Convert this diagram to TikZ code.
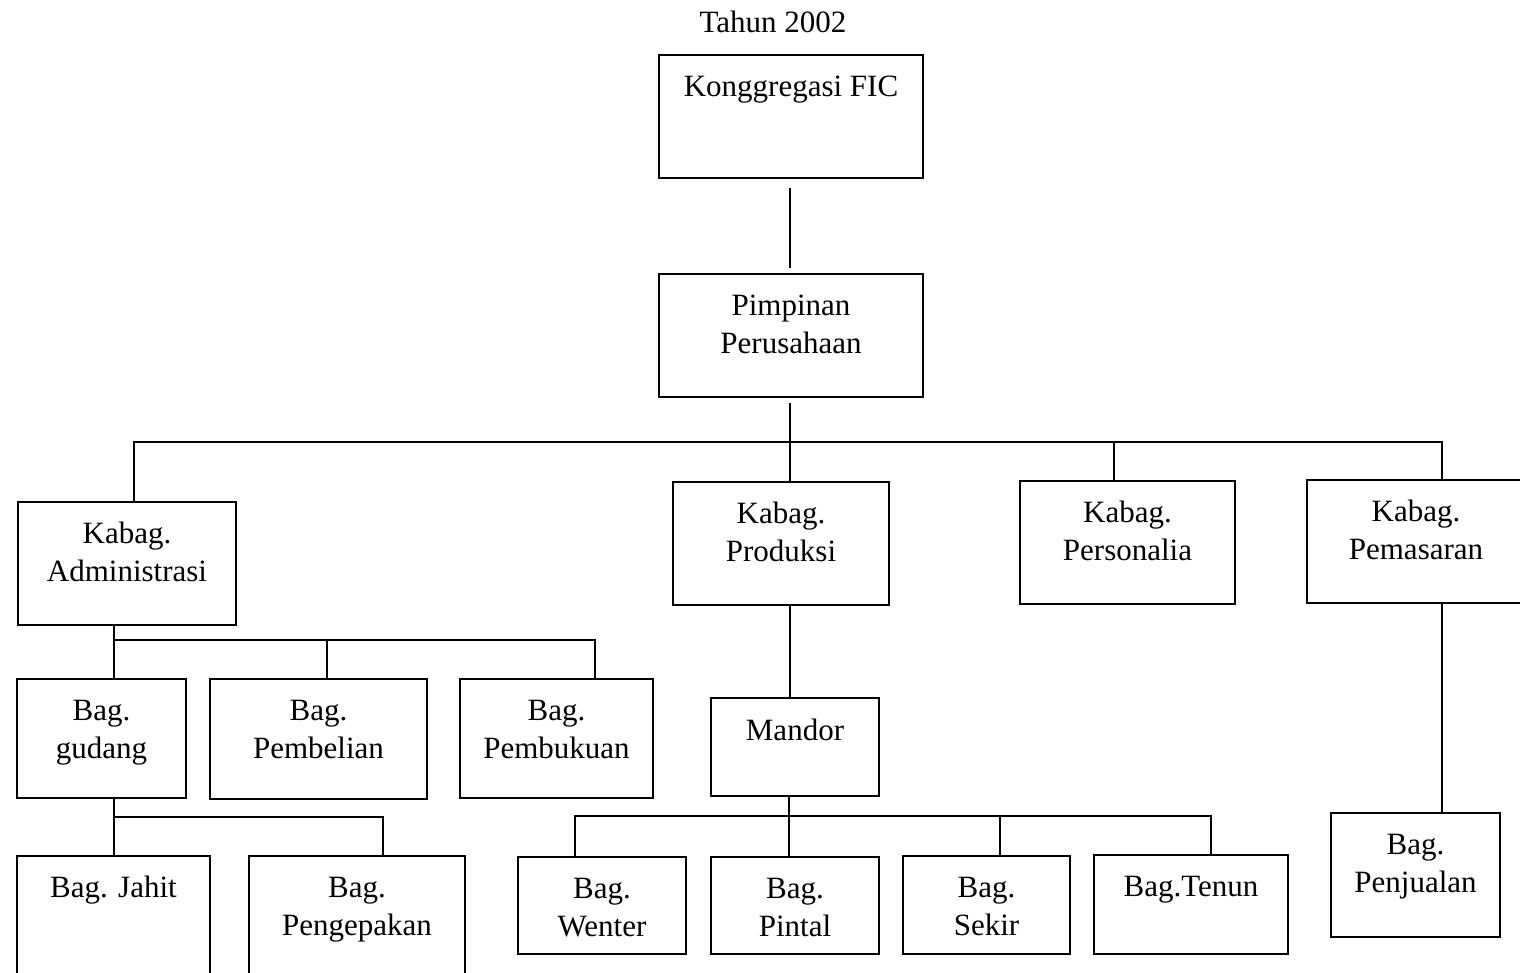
\documentclass[tikz,border=0pt]{standalone}
\usepackage{fontspec}
\setmainfont{Liberation Serif}
\begin{document}
\begin{tikzpicture}[x=1pt,y=-1pt,
  unit/.style={draw,line width=1.8pt,inner sep=0pt,outer sep=0pt,anchor=north west},
  lbl/.style={font=\fontsize{31}{38}\selectfont,align=center,inner sep=0pt,anchor=base},
  link/.style={line width=1.6pt}]
\clip (0,0) rectangle (1520,973);
\useasboundingbox (0,0) rectangle (1520,973);

% title
\node[lbl] (title) at (773,33) {Tahun 2002};

% boxes: top-left corner, width, height
\node[unit,minimum width=264pt,minimum height=123pt] (fic)  at (659,55)  {};
\node[unit,minimum width=264pt,minimum height=123pt] (pim)  at (659,274) {};
\node[unit,minimum width=218pt,minimum height=123pt] (adm)  at (18,502)  {};
\node[unit,minimum width=216pt,minimum height=123pt] (prod) at (673,482) {};
\node[unit,minimum width=215pt,minimum height=123pt] (pers) at (1020,481) {};
\node[unit,minimum width=218pt,minimum height=123pt] (pem)  at (1307,480) {};
\node[unit,minimum width=169pt,minimum height=119pt] (gud)  at (17,679)  {};
\node[unit,minimum width=217pt,minimum height=120pt] (pbl)  at (210,679) {};
\node[unit,minimum width=193pt,minimum height=119pt] (pbk)  at (460,679) {};
\node[unit,minimum width=168pt,minimum height=98pt]  (man)  at (711,698) {};
\node[unit,minimum width=193pt,minimum height=140pt] (jah)  at (17,856)  {};
\node[unit,minimum width=216pt,minimum height=140pt] (pgp)  at (249,856) {};
\node[unit,minimum width=168pt,minimum height=97pt]  (wen)  at (518,857) {};
\node[unit,minimum width=168pt,minimum height=97pt]  (pin)  at (711,857) {};
\node[unit,minimum width=167pt,minimum height=98pt]  (sek)  at (903,856) {};
\node[unit,minimum width=194pt,minimum height=99pt]  (ten)  at (1094,855) {};
\node[unit,minimum width=169pt,minimum height=124pt] (jual) at (1331,813) {};

% labels (base anchor = last line; first baseline about 41pt below the box top)
\node[lbl] (fic-t)  at ([yshift=-42pt]fic.north)  {Konggregasi FIC};
\node[lbl] (pim-t)  at ([yshift=-79pt]pim.north)  {Pimpinan\\Perusahaan};
\node[lbl] (adm-t)  at ([yshift=-79pt]adm.north)  {Kabag.\\Administrasi};
\node[lbl] (prod-t) at ([yshift=-79pt]prod.north) {Kabag.\\Produksi};
\node[lbl] (pers-t) at ([yshift=-79pt]pers.north) {Kabag.\\Personalia};
\node[lbl] (pem-t)  at ([yshift=-79pt]1416,480)  {Kabag.\\Pemasaran};
\node[lbl] (gud-t)  at ([yshift=-79pt]gud.north)  {Bag.\\gudang};
\node[lbl] (pbl-t)  at ([yshift=-79pt]pbl.north)  {Bag.\\Pembelian};
\node[lbl] (pbk-t)  at ([yshift=-79pt]pbk.north)  {Bag.\\Pembukuan};
\node[lbl] (man-t)  at ([yshift=-42pt]man.north)  {Mandor};
\node[lbl] (jah-t)  at ([yshift=-41pt]jah.north)  {Bag. Jahit};
\node[lbl] (pgp-t)  at ([yshift=-79pt]pgp.north)  {Bag.\\Pengepakan};
\node[lbl] (wen-t)  at ([yshift=-79pt]wen.north)  {Bag.\\Wenter};
\node[lbl] (pin-t)  at ([yshift=-79pt]pin.north)  {Bag.\\Pintal};
\node[lbl] (sek-t)  at ([yshift=-79pt]sek.north)  {Bag.\\Sekir};
\node[lbl] (ten-t)  at ([yshift=-41pt]ten.north)  {Bag.Tenun};
\node[lbl] (jual-t) at ([yshift=-79pt]jual.north) {Bag.\\Penjualan};

% top of the chart
\draw[link,shorten <=10pt,shorten >=6pt] (fic.south -| 790,0) -- (pim.north -| 790,0);

% main bus to the heads of department
\coordinate (busL) at (134,442);
\coordinate (busR) at (1442,442);
\coordinate (busP) at (1114,442);
\draw[link,shorten <=6pt] (pim.south -| 790,0) -- (790,442);
\draw[link] (busL |- adm.north) -- (busL) -- (busR) -- (busR |- pem.north);
\draw[link] (790,442) -- (790,0 |- prod.north);
\draw[link] (busP) -- (busP |- pers.north);

% administration
\coordinate (ad) at (114,640);
\draw[link] (ad |- adm.south) -- (ad |- gud.north);
\draw[link] (ad) -- (595,640) -- (595,0 |- pbk.north);
\draw[link] (327,640) -- (327,0 |- pbl.north);

% warehouse
\coordinate (gd) at (114,817);
\draw[link] (gd |- gud.south) -- (gd |- jah.north);
\draw[link] (gd) -- (383,817) -- (383,0 |- pgp.north);

% production
\coordinate (md) at (789,816);
\draw[link] (790,0 |- prod.south) -- (790,0 |- man.north);
\draw[link] (md |- man.south) -- (md |- pin.north);
\draw[link] (575,0 |- wen.north) -- (575,816) -- (1211,816) -- (1211,0 |- ten.north);
\draw[link] (1000,816) -- (1000,0 |- sek.north);

% marketing
\draw[link] (busR |- pem.south) -- (busR |- jual.north);
\end{tikzpicture}
\end{document}
